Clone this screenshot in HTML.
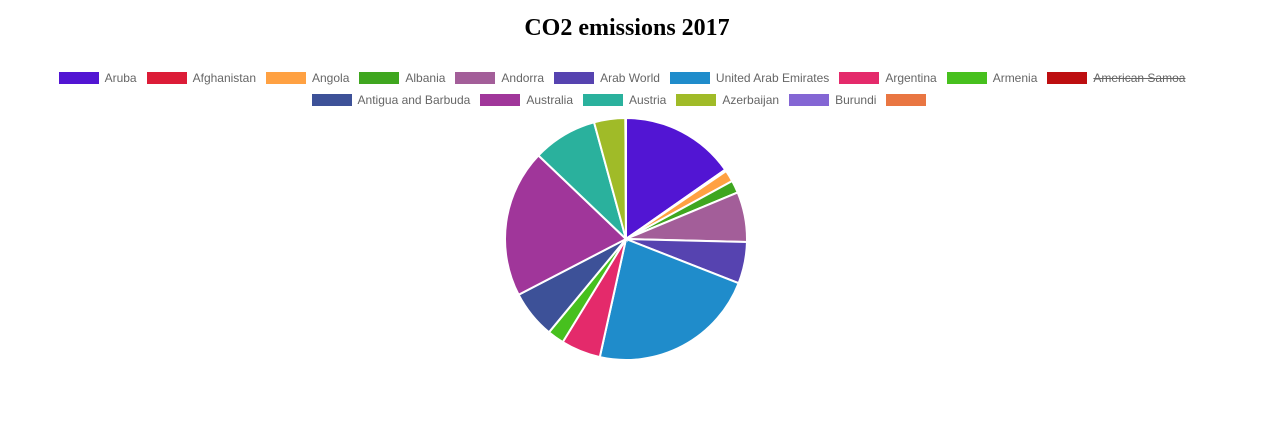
<!DOCTYPE html>
<html><head><meta charset="utf-8"><style>
body{margin:0;width:1274px;height:428px;background:#fff;overflow:hidden;font-family:"Liberation Sans",sans-serif}
#title{position:absolute;top:15px;left:0;width:1254px;text-align:center;font:bold 24px "Liberation Serif",serif;color:#000}
.row{position:absolute;left:0;width:1254px;display:flex;justify-content:center;font-size:12px;color:#666}
.it{display:flex;align-items:center;margin-right:10px;height:14px}
.bx{width:40px;height:12px;margin-right:6px}
svg{position:absolute;left:0;top:0}
</style></head><body>
<div id="title">CO2 emissions 2017</div>
<div id="r1" class="row" style="top:71px"></div>
<div id="r2" class="row" style="top:93px"></div>
<svg id="pie" width="1274" height="428"></svg>
<script>
const categories=["Aruba","Afghanistan","Angola","Albania","Andorra","Arab World","United Arab Emirates","Argentina","Armenia","American Samoa","Antigua and Barbuda","Australia","Austria","Azerbaijan","Burundi",""];
const values=[55,0.8,5.5,6,24,20,81,19,8,0,23,71,31,15,0.3,0];
const hidden=[false,false,false,false,false,false,false,false,false,true,false,false,false,false,false,false];
const colors=["#5215d3","#dc1c37","#ffa142","#3fa61f","#a35e99","#5643b0","#1f8ccb","#e42a6b","#47c01e","#bd0e10","#3d5198","#a0369a","#2ab19d","#a0bb28","#8466d4","#e97642"];
const cx=626,cy=239,R=121;
const rows=[[0,1,2,3,4,5,6,7,8,9],[10,11,12,13,14,15]];
rows.forEach((r,ri)=>{
  const row=document.getElementById(ri?'r2':'r1');
  r.forEach(i=>{
    const it=document.createElement('div');it.className='it';
    
    
    const b=document.createElement('div');b.className='bx';b.style.background=colors[i];
    it.appendChild(b);
    if(categories[i]){const s=document.createElement('span');s.textContent=categories[i];
      if(hidden[i])s.style.textDecoration='line-through';it.appendChild(s);}
    row.appendChild(it);
  });
});
const svg=document.getElementById('pie');
const total=values.reduce((a,v,i)=>a+(hidden[i]?0:v),0);
let a0=-Math.PI/2;
values.forEach((v,i)=>{
  if(hidden[i]||v<=0)return;
  const a1=a0+v/total*2*Math.PI;
  const x0=cx+R*Math.cos(a0),y0=cy+R*Math.sin(a0),x1=cx+R*Math.cos(a1),y1=cy+R*Math.sin(a1);
  const p=document.createElementNS('http://www.w3.org/2000/svg','path');
  p.setAttribute('d',`M${cx},${cy}L${x0},${y0}A${R},${R} 0 ${a1-a0>Math.PI?1:0} 1 ${x1},${y1}Z`);
  p.setAttribute('fill',colors[i]);p.setAttribute('stroke','#fff');p.setAttribute('stroke-width','2');
  
  
  svg.appendChild(p);
  a0=a1;
});
</script>
</body></html>
